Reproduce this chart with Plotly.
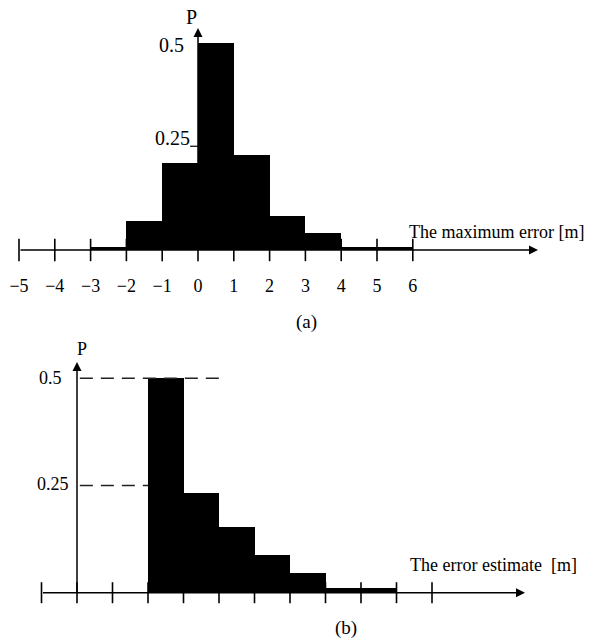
import plotly.graph_objects as go

# ---------------- data ----------------
# (a) maximum error histogram
a_bin_left = [-3, -2, -1, 0, 1, 2, 3, 4]
a_bin_right = [-2, -1, 0, 1, 2, 3, 4, 6]
a_prob = [0.007, 0.07, 0.21, 0.50, 0.23, 0.082, 0.042, 0.007]
a_ticks = [-5, -4, -3, -2, -1, 0, 1, 2, 3, 4, 5, 6]
a_tick_labels = ["\u22125", "\u22124", "\u22123", "\u22122", "\u22121", "0", "1", "2", "3", "4", "5", "6"]

# (b) error estimate histogram (unit tick spacing, no numeric labels)
b_bin_left = [2, 3, 4, 5, 6, 7]
b_bin_right = [3, 4, 5, 6, 7, 9]
b_prob = [0.50, 0.233, 0.154, 0.088, 0.047, 0.012]
b_ticks = [-1, 0, 1, 2, 3, 4, 5, 6, 7, 8, 9, 10]

W, H = 590, 639
FONT = "Liberation Serif, Times New Roman, serif"

def px(xp):
    return xp / W

def py(yp):
    return 1 - yp / H

# pixel calibration
A_X0, A_DX = 198.0, 35.8      # pixel of x=0, px per unit
A_Y0, A_DY = 250.0, 415.0     # pixel of P=0, px per unit P
A_TOP, A_BOT = 0.0, 273.0
B_X0, B_DX = 77.0, 35.5
B_Y0, B_DY = 592.7, 429.0
B_TOP, B_BOT = 330.0, 639.0

fig = go.Figure()

# ---- bars ----
fig.add_trace(go.Bar(
    x=[(l + r) / 2 for l, r in zip(a_bin_left, a_bin_right)],
    y=a_prob, width=[r - l for l, r in zip(a_bin_left, a_bin_right)],
    base=0, marker=dict(color="black", line=dict(width=0)),
    xaxis="x", yaxis="y", showlegend=False, hoverinfo="skip"))
fig.add_trace(go.Bar(
    x=[(l + r) / 2 for l, r in zip(b_bin_left, b_bin_right)],
    y=b_prob, width=[r - l for l, r in zip(b_bin_left, b_bin_right)],
    base=0, marker=dict(color="black", line=dict(width=0)),
    xaxis="x2", yaxis="y2", showlegend=False, hoverinfo="skip"))

# ---- tick marks ----
fig.add_trace(go.Scatter(
    x=a_ticks, y=[0] * len(a_ticks), mode="markers",
    marker=dict(symbol="line-ns", size=16, line=dict(width=1.6, color="black")),
    xaxis="x", yaxis="y", showlegend=False, hoverinfo="skip"))
fig.add_trace(go.Scatter(
    x=b_ticks, y=[0] * len(b_ticks), mode="markers",
    marker=dict(symbol="line-ns", size=15, line=dict(width=1.6, color="black")),
    xaxis="x2", yaxis="y2", showlegend=False, hoverinfo="skip"))

a_xrange = [-A_X0 / A_DX, (W - A_X0) / A_DX]
a_yrange = [-(A_BOT - A_Y0) / A_DY, (A_Y0 - A_TOP) / A_DY]
b_xrange = [-B_X0 / B_DX, (W - B_X0) / B_DX]
b_yrange = [-(B_BOT - B_Y0) / B_DY, (B_Y0 - B_TOP) / B_DY]

hidden = dict(showgrid=False, zeroline=False, showline=False, fixedrange=True)

fig.update_layout(
    width=W, height=H, margin=dict(l=0, r=0, t=0, b=0),
    paper_bgcolor="white", plot_bgcolor="white", bargap=0,
    font=dict(family=FONT, color="black"),
    xaxis=dict(domain=[0, 1], range=a_xrange, anchor="y",
               tickvals=a_ticks, ticktext=a_tick_labels, ticks="",
               tickfont=dict(family=FONT, size=18, color="black"), **hidden),
    yaxis=dict(domain=[py(A_BOT), py(A_TOP)], range=a_yrange, anchor="x",
               showticklabels=False, **hidden),
    xaxis2=dict(domain=[0, 1], range=b_xrange, anchor="y2",
                showticklabels=False, **hidden),
    yaxis2=dict(domain=[py(B_BOT), py(B_TOP)], range=b_yrange, anchor="x2",
                showticklabels=False, **hidden),
)

shapes = []
# top 0.25 small tick
shapes.append(dict(type="line", xref="x", yref="y", x0=-0.22, x1=0, y0=0.25, y1=0.25,
                   line=dict(color="black", width=1.2)))
# bottom dashed guide lines
shapes.append(dict(type="line", xref="x2", yref="y2", x0=0.08, x1=4.0, y0=0.5, y1=0.5,
                   line=dict(color="#222", width=1.5, dash="13px,8px")))
shapes.append(dict(type="line", xref="x2", yref="y2", x0=0.08, x1=2.0, y0=0.25, y1=0.25,
                   line=dict(color="#222", width=1.5, dash="13px,8px")))
fig.update_layout(shapes=shapes)

ann = []
# axis arrows
ann.append(dict(xref="x", yref="y", axref="x", ayref="y", x=(538 - A_X0) / A_DX, y=0,
                ax=-5, ay=0, showarrow=True, arrowhead=2, arrowsize=1.2, arrowwidth=1.5,
                arrowcolor="black", text=""))
ann.append(dict(xref="x", yref="y", axref="x", ayref="y", x=0, y=(A_Y0 - 28) / A_DY,
                ax=0, ay=0, showarrow=True, arrowhead=2, arrowsize=1.2, arrowwidth=1.5,
                arrowcolor="black", text=""))
ann.append(dict(xref="x2", yref="y2", axref="x2", ayref="y2", x=(525 - B_X0) / B_DX, y=0,
                ax=-1, ay=0, showarrow=True, arrowhead=2, arrowsize=1.2, arrowwidth=1.5,
                arrowcolor="black", text=""))
ann.append(dict(xref="x2", yref="y2", axref="x2", ayref="y2", x=0, y=(B_Y0 - 362) / B_DY,
                ax=0, ay=-0.005, showarrow=True, arrowhead=2, arrowsize=1.2, arrowwidth=1.5,
                arrowcolor="black", text=""))

def label(text, xp, yp, size=18, xanchor="center"):
    ann.append(dict(xref="paper", yref="paper", x=px(xp), y=py(yp), text=text,
                    showarrow=False, xanchor=xanchor, yanchor="middle",
                    font=dict(family=FONT, size=size, color="black")))

label("P", 191, 17, 20)
label("0.5", 171, 45, 20)
label("0.25", 172, 138, 20)
label("The maximum error [m]", 496, 232, 18)
label("(a)", 306, 322, 19)
label("P", 82, 349, 18)
label("0.5", 50, 378, 18)
label("0.25", 53, 484, 18)
label("The error estimate  [m]", 493, 565, 18)
label("(b)", 346, 628, 19)

fig.update_layout(annotations=ann)
fig.write_html("out.html")
